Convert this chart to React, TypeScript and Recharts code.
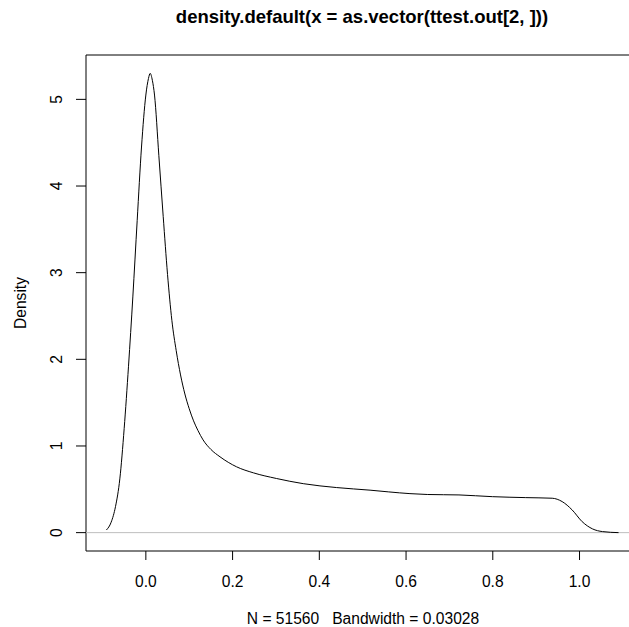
import { Customized, Line, LineChart, ReferenceArea, ReferenceLine, XAxis, YAxis } from "recharts"

// density estimate (x value, density)
const densityX = [
  -0.091, -0.08, -0.07, -0.06, -0.05, -0.04, -0.03, -0.02, -0.01, 0.0,
  0.006, 0.01, 0.015, 0.02, 0.03, 0.04, 0.05, 0.06, 0.07, 0.08,
  0.09, 0.1, 0.11, 0.12, 0.132, 0.15, 0.171, 0.209, 0.248, 0.301,
  0.363, 0.44, 0.517, 0.56, 0.609, 0.65, 0.722, 0.799, 0.876, 0.937,
  0.96, 0.983, 1.006, 1.03, 1.053, 1.09,
]
const densityY = [
  0.03, 0.12, 0.3, 0.62, 1.2, 1.92, 2.72, 3.6, 4.45, 5.05,
  5.24, 5.3, 5.22, 5.05, 4.35, 3.65, 2.98, 2.45, 2.1, 1.82,
  1.6, 1.43, 1.29, 1.18, 1.07, 0.96, 0.875, 0.76, 0.69, 0.625,
  0.565, 0.52, 0.49, 0.47, 0.45, 0.44, 0.435, 0.415, 0.404, 0.397,
  0.358, 0.262, 0.127, 0.043, 0.012, 0.0,
]

const xTicks = [0, 0.2, 0.4, 0.6, 0.8, 1.0]
const yTicks = [0, 1, 2, 3, 4, 5]

const title = "density.default(x = as.vector(ttest.out[2, ]))"
const subtitle = "N = 51560   Bandwidth = 0.03028"
const yLabel = "Density"

const X_DOMAIN: [number, number] = [-0.138, 1.136]
const Y_DOMAIN: [number, number] = [-0.212, 5.512]

const font = "'Liberation Sans', Arial, sans-serif"

const data = densityX.map((x, i) => ({ x, y: densityY[i] }))

function XTick({ x, payload }: any) {
  return (
    <text x={x} y={586.5} textAnchor="middle" fontSize={15.6} fontFamily={font} fill="#000">
      {payload.value.toFixed(1)}
    </text>
  )
}

function YTick({ y, payload }: any) {
  return (
    <text
      x={57}
      y={y}
      transform={`rotate(-90, 57, ${y})`}
      textAnchor="middle"
      dominantBaseline="central"
      fontSize={15.6}
      fontFamily={font}
      fill="#000"
    >
      {payload.value}
    </text>
  )
}

function Labels() {
  return (
    <g fontFamily={font} fill="#000">
      <text x={362} y={22.5} textAnchor="middle" fontSize={18.5} fontWeight="bold">
        {title}
      </text>
      <text x={363} y={623.5} textAnchor="middle" fontSize={15.6} style={{ whiteSpace: "pre" }}>
        {subtitle}
      </text>
      <text
        x={20}
        y={303}
        transform="rotate(-90, 20, 303)"
        textAnchor="middle"
        dominantBaseline="central"
        fontSize={15.6}
      >
        {yLabel}
      </text>
    </g>
  )
}

export default function App() {
  return (
    <div style={{ position: "absolute", left: 0, top: 0, width: 629, height: 627, overflow: "hidden", background: "#fff" }}>
      <LineChart width={640} height={627} data={data} margin={{ top: 55, right: 1.5, bottom: 0, left: 0 }}>
        <XAxis
          type="number"
          dataKey="x"
          domain={X_DOMAIN}
          ticks={xTicks}
          allowDataOverflow
          axisLine={false}
          tickSize={9}
          tickLine={{ stroke: "#000" }}
          tick={<XTick />}
          height={76}
          interval={0}
        />
        <YAxis
          type="number"
          domain={Y_DOMAIN}
          ticks={yTicks}
          allowDataOverflow
          axisLine={false}
          tickSize={10}
          tickLine={{ stroke: "#000" }}
          tick={<YTick />}
          width={86}
          interval={0}
        />
        <ReferenceLine y={0} stroke="#bebebe" strokeWidth={1} />
        <ReferenceArea
          x1={X_DOMAIN[0]}
          x2={X_DOMAIN[1]}
          y1={Y_DOMAIN[0]}
          y2={Y_DOMAIN[1]}
          fill="none"
          stroke="#000"
          strokeWidth={1}
          ifOverflow="visible"
        />
        <Line
          type="monotone"
          dataKey="y"
          stroke="#000"
          strokeWidth={1}
          dot={false}
          isAnimationActive={false}
        />
        <Customized component={Labels} />
      </LineChart>
    </div>
  )
}
